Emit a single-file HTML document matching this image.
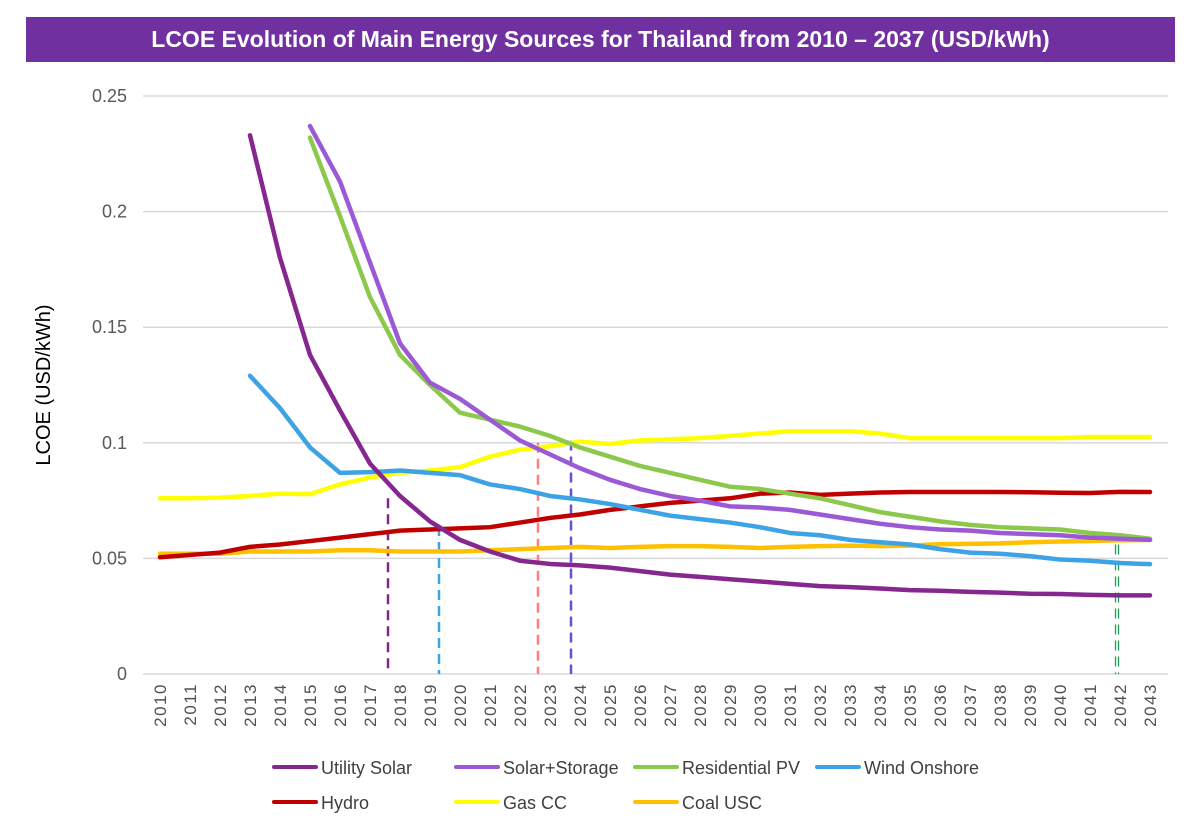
<!DOCTYPE html>
<html><head><meta charset="utf-8">
<style>
body{margin:0;background:#fff;font-family:"Liberation Sans",sans-serif;}
#wrap{position:relative;width:1200px;height:831px;overflow:hidden;}
#title{position:absolute;left:26px;top:17px;width:1149px;height:45px;background:#7030a0;color:#fff;font-weight:bold;font-size:23px;line-height:45px;text-align:center;}
</style></head><body>
<div id="wrap">
<div id="title">LCOE Evolution of Main Energy Sources for Thailand from 2010 – 2037 (USD/kWh)</div>
<svg id="svg" width="1200" height="831" style="position:absolute;left:0;top:0"></svg>
</div>
<script>
const years=[];for(let y=2010;y<=2043;y++)years.push(y);
const yTicks=[0,0.05,0.1,0.15,0.2,0.25];
const yTickLabels=["0","0.05","0.1","0.15","0.2","0.25"];
const utilitySolar=[null,null,null,0.233,0.18,0.138,0.114,0.091,0.077,0.066,0.058,0.053,0.049,0.0476,0.047,0.046,0.0445,0.043,0.042,0.041,0.040,0.039,0.038,0.0376,0.037,0.0363,0.036,0.0355,0.0352,0.0347,0.0346,0.0342,0.034,0.034];
const solarStorage=[null,null,null,null,null,0.237,0.213,0.178,0.143,0.126,0.119,0.110,0.101,0.095,0.089,0.084,0.080,0.077,0.075,0.0725,0.072,0.071,0.069,0.067,0.065,0.0635,0.0625,0.062,0.061,0.0605,0.060,0.059,0.0585,0.058];
const residentialPV=[null,null,null,null,null,0.232,0.198,0.163,0.138,0.125,0.113,0.110,0.107,0.103,0.098,0.094,0.090,0.087,0.084,0.081,0.080,0.078,0.076,0.073,0.070,0.068,0.066,0.0645,0.0635,0.063,0.0625,0.061,0.060,0.0585];
const windOnshore=[null,null,null,0.129,0.115,0.098,0.087,0.0873,0.088,0.087,0.086,0.082,0.080,0.077,0.0755,0.0735,0.071,0.0685,0.067,0.0655,0.0635,0.061,0.060,0.058,0.057,0.056,0.054,0.0525,0.052,0.051,0.0495,0.049,0.048,0.0475];
const hydro=[0.0505,0.0515,0.0525,0.055,0.056,0.0575,0.059,0.0605,0.062,0.0625,0.063,0.0635,0.0655,0.0675,0.069,0.071,0.0725,0.074,0.075,0.076,0.078,0.0785,0.0775,0.078,0.0785,0.0787,0.0787,0.0787,0.0787,0.0786,0.0784,0.0783,0.0788,0.0787];
const gasCC=[0.076,0.076,0.0763,0.077,0.078,0.0778,0.082,0.085,0.087,0.088,0.0895,0.094,0.097,0.0985,0.1005,0.0995,0.101,0.1015,0.102,0.103,0.104,0.105,0.105,0.105,0.104,0.102,0.102,0.102,0.102,0.102,0.102,0.1025,0.1025,0.1025];
const coalUSC=[0.052,0.052,0.052,0.053,0.053,0.053,0.0535,0.0535,0.053,0.053,0.053,0.0535,0.054,0.0545,0.055,0.0545,0.055,0.0553,0.0553,0.055,0.0545,0.055,0.0553,0.0555,0.0553,0.0555,0.0562,0.0563,0.0565,0.057,0.0573,0.0575,0.0578,0.058];
const seriesNames=["Utility Solar","Solar+Storage","Residential PV","Wind Onshore","Hydro","Gas CC","Coal USC"];
const seriesData=[utilitySolar,solarStorage,residentialPV,windOnshore,hydro,gasCC,coalUSC];
const seriesColors=["#86268f","#9b59d6","#8cc84b","#3da3e4","#c00000","#ffff00","#ffc000"];
const markerYears=[2017.6,2019.3,2022.6,2023.7,2041.9];
const markerTops=[0.076,0.064,0.1,0.101,0.056];
const markerColors=["#86268f","#3da3e4","#ff8080","#6a4fd0","#1aa052"];

const svg=document.getElementById('svg');const NS="http://www.w3.org/2000/svg";
function mk(t,a){const e=document.createElementNS(NS,t);for(const k in a)e.setAttribute(k,a[k]);svg.appendChild(e);return e;}
const x=yr=>160+(yr-2010)*30;
const y=v=>674-v*2312;
yTicks.forEach((t,i)=>{
 const g=mk('line',{x1:143,x2:1168,y1:y(t),y2:y(t),stroke:"#d9d9d9","stroke-width":1.5});
 
 const l=mk('text',{x:127,y:y(t)+6,"text-anchor":"end","font-size":18,fill:"#595959"});
 l.textContent=yTickLabels[i];
 
});
years.forEach(yr=>{
 const t=mk('text',{transform:`translate(${x(yr)+6},${683}) rotate(-90)`,"text-anchor":"end","font-size":17,"letter-spacing":1.5,fill:"#505050"});
 t.textContent=yr;
 
});
const yt=mk('text',{transform:"translate(50,385) rotate(-90)","text-anchor":"middle","font-size":20,fill:"#000"});
yt.textContent="LCOE (USD/kWh)";

markerYears.forEach((m,i)=>{
 const attrs={x1:x(m),x2:x(m),y1:y(markerTops[i]),y2:674,stroke:markerColors[i],"stroke-width":2.5,"stroke-dasharray":"10 6"};
 if(i===4){attrs.stroke="none";}
 const l=mk('line',attrs);
 
 if(i===4){[-1.5,1.5].forEach(d=>{const l2=mk('line',{x1:x(m)+d,x2:x(m)+d,y1:y(markerTops[i]),y2:674,stroke:markerColors[i],"stroke-width":1.3,"stroke-dasharray":"10 6"});
 });}
});
const order=[6,4,5,3,0,2,1];
order.forEach(si=>{
 const d=seriesData[si];let p="";
 d.forEach((v,i)=>{if(v==null)return;p+=(p?"L":"M")+x(years[i])+","+y(v);});
 const path=mk('path',{d:p,fill:"none",stroke:seriesColors[si],"stroke-width":4.5,"stroke-linejoin":"round","stroke-linecap":"round"});
 
});
const legX=[274,456,635,817,274,456,635],legY=[767,767,767,767,802,802,802];
seriesNames.forEach((n,i)=>{
 const l=mk('line',{x1:legX[i],x2:legX[i]+42,y1:legY[i],y2:legY[i],stroke:seriesColors[i],"stroke-width":4,"stroke-linecap":"round"});
 
 const t=mk('text',{x:legX[i]+47,y:legY[i]+7,"font-size":18,fill:"#404040"});
 t.textContent=n;
 
});
</script>
</body></html>
